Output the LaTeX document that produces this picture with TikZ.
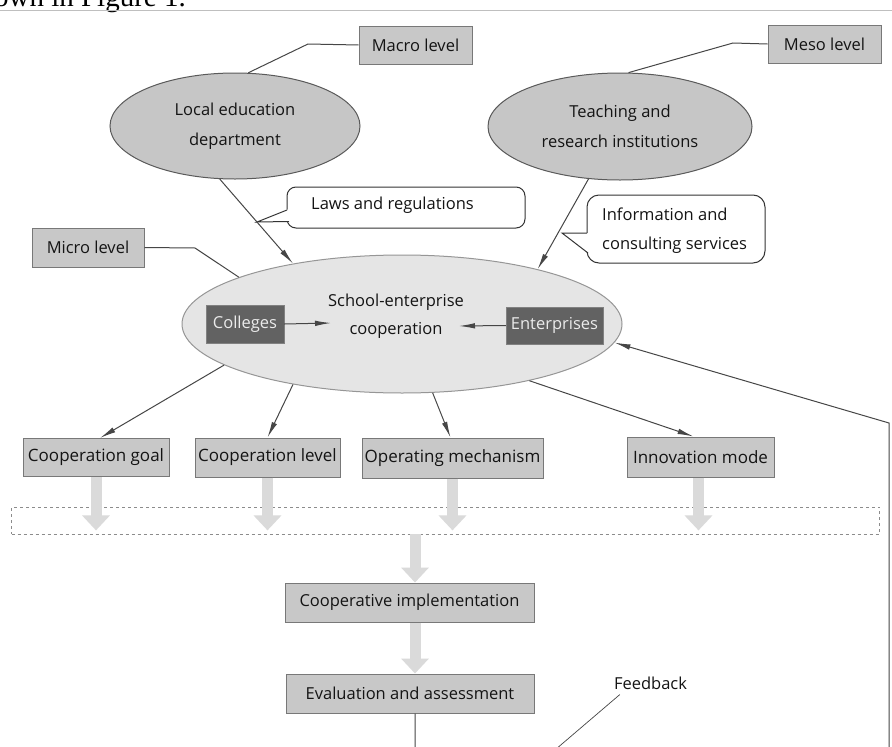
\documentclass[tikz,border=0pt]{standalone}
\usepackage{fontspec}
\setmainfont{Open Sans}
\newfontfamily\serifx{Liberation Serif}
\usetikzlibrary{shapes.geometric,arrows.meta,calc}
\definecolor{lngray}{RGB}{70,70,70}
\definecolor{boxfill}{RGB}{200,200,200}
\definecolor{boxdraw}{RGB}{120,120,120}
\definecolor{ellfill}{RGB}{198,198,198}
\definecolor{elldraw}{RGB}{90,90,90}
\definecolor{cenfill}{RGB}{229,229,229}
\definecolor{cendraw}{RGB}{150,150,150}
\definecolor{darkbox}{RGB}{98,98,98}
\definecolor{blkgray}{RGB}{218,218,218}
\definecolor{txt}{RGB}{20,20,20}
\newcommand\fsA{\fontsize{16.5}{20}\selectfont}
\newcommand\fsB{\fontsize{17}{20}\selectfont}
\begin{document}
\begin{tikzpicture}[x=1pt,y=-1pt,
  every node/.style={text=txt},
  lvlbox/.style={draw=boxdraw, fill=boxfill, line width=1pt, inner sep=0, minimum height=38pt, font=\fsA},
  rowbox/.style={draw=boxdraw, fill=boxfill, line width=1pt, inner sep=0, minimum height=39pt, font=\fsB},
  topell/.style={ellipse, draw=elldraw, fill=ellfill, line width=1pt, inner sep=0, align=center, font=\fontsize{16.5}{30}\selectfont},
  darkb/.style={draw=darkbox!80, fill=darkbox, inner sep=0, minimum height=38pt, font=\fsA, text=white!92!black},
  ln/.style={draw=lngray, line width=1pt},
  arr/.style={-{Latex[length=16pt,width=5.5pt]}},
  blk/.style={draw=blkgray, line width=11pt, -{Triangle[length=15pt,width=27pt]}},
  co/.style={draw=black!80, line width=1pt}
]
\useasboundingbox (0,0) rectangle (892,747);
\clip (0,0) rectangle (892,747);
\fill[white] (0,0) rectangle (892,747);

% fragment of surrounding text and rule
\node[anchor=base east, inner sep=0, font=\serifx\fontsize{29}{32}\selectfont, text=black] (hdr) at (186,6) {shown in Figure 1.};
\draw[black!25, line width=1pt] (0,10) -- (892,10);

% level boxes
\node[lvlbox, minimum width=113pt] (macro) at (415.5,45) {Macro level};
\node[lvlbox, minimum width=113pt] (meso) at (824.5,44) {Meso level};
\node[lvlbox, minimum width=112pt, minimum height=39pt] (micro) at (88,247.5) {Micro level};

% top ellipses
\node[topell, minimum width=250pt, minimum height=106pt] (led) at (235,126) {Local education\\department};
\node[topell, minimum width=264pt, minimum height=107pt] (tri) at (620,126.5) {Teaching and\\research institutions};

% central ellipse
\node[ellipse, draw=cendraw, fill=cenfill, line width=1pt, minimum width=440pt, minimum height=138pt, inner sep=0] (cen) at (402,324) {};
\node[align=center, inner sep=0, font=\fontsize{16.5}{28}\selectfont] (sec) at (396,316) {School-enterprise\\cooperation};
\node[darkb, minimum width=78pt] (col) at (245,324) {Colleges};
\node[darkb, minimum width=97pt, minimum height=37pt] (ent) at (554.5,325.5) {Enterprises};
\coordinate (cola) at (331,323);
\coordinate (enta) at (459,326);
\draw[ln, arr] (col.east) -- (cola);
\draw[ln, arr] (ent.west) -- (enta);

% callouts
\node[draw=black!80, line width=1pt, rounded corners=9pt, minimum width=238pt, minimum height=41pt, inner sep=0] (lawsbox) at (406,207.5) {};
\node[inner sep=0, font=\fsA] (laws) at (392.5,205) {Laws and regulations};
\fill[white] (285.5,209.5) -- (257,222) -- (288.5,222) -- (288.5,209.5) -- cycle;
\coordinate (lawt) at (257,222);
\draw[co] (287,210) -- (lawt) -- (289,221.5);

\node[draw=black!80, line width=1pt, rounded corners=12pt, minimum width=178pt, minimum height=68pt, inner sep=0] (infobox) at (676,229) {};
\node[anchor=west, align=left, inner sep=0, font=\fontsize{16.5}{29}\selectfont] (info) at (602,230.5) {Information and\\consulting services};
\fill[white] (585.5,233) -- (562,233) -- (588.5,253) -- (588.5,233) -- cycle;
\coordinate (inft) at (562,233);
\draw[co] (587,233) -- (inft) -- (588,253);

% connectors from top
\coordinate (mk1) at (308,44);
\draw[ln] (led.76) -- (mk1) -- (macro.west);
\coordinate (mk2) at (733,43);
\draw[ln] (tri.81) -- (mk2) -- (meso.west);
\coordinate (mk3) at (195,248);
\draw[ln] (micro.east) -- (mk3) -- (cen.164.6);
\draw[ln, arr] (led.254) -- (cen.151.7);
\draw[ln, arr] (tri.239) -- (cen.22.2);

% row boxes
\node[rowbox, minimum width=146pt, minimum height=38pt] (goal) at (96,457.5) {Cooperation goal};
\node[rowbox, minimum width=145pt] (clev) at (267.5,457.5) {Cooperation level};
\node[rowbox, minimum width=181pt, minimum height=40pt] (mech) at (452.5,458) {Operating mechanism};
\node[rowbox, minimum width=147pt, minimum height=40pt] (innov) at (700.5,457) {Innovation mode};

\draw[ln, arr] (cen.193) -- ([xshift=4pt]goal.north);
\draw[ln, arr] (cen.209) -- (clev.north);
\draw[ln, arr] (cen.294) -- ([xshift=-2pt]mech.north);
\draw[ln, arr] (cen.336.7) -- ([xshift=-7pt]innov.north);

% dashed collector
\node[draw=black!45, dashed, line width=0.8pt, minimum width=868pt, minimum height=27pt, inner sep=0] (pool) at (445.5,520.5) {};

\draw[blk] (goal.south) -- ([yshift=4pt]goal.south |- pool.south);
\draw[blk] (clev.south) -- ([yshift=4pt]clev.south |- pool.south);
\draw[blk] (mech.south) -- ([yshift=4pt]mech.south |- pool.south);
\draw[blk] ([xshift=-2pt]innov.south) -- ([xshift=-2pt,yshift=4pt]innov.south |- pool.south);

% lower chain
\node[rowbox, minimum width=249pt, font=\fsA] (impl) at (409.5,602.5) {Cooperative implementation};
\node[rowbox, minimum width=248pt, font=\fsA] (eval) at (410,693.5) {Evaluation and assessment};

\draw[blk] ([xshift=5.5pt]impl.north |- pool.south) -- ([xshift=5.5pt]impl.north);
\draw[blk] ([xshift=5.5pt]impl.south) -- ([xshift=5pt]eval.north);

% feedback loop
\coordinate (fbA) at (415,770);
\coordinate (fbB) at (889,770);
\coordinate (fbC) at (889,423);
\draw[ln, arr] ([xshift=5pt]eval.south) -- (fbA) -- (fbB) -- (fbC) -- (cen.355);
\node[inner sep=0, font=\fsA] (fbk) at (650.5,683) {Feedback};
\coordinate (fbl) at (535,767);
\draw[ln, line width=0.7pt] ([shift={(6,5)}]fbk.south west) -- (fbl);
\end{tikzpicture}
\end{document}
